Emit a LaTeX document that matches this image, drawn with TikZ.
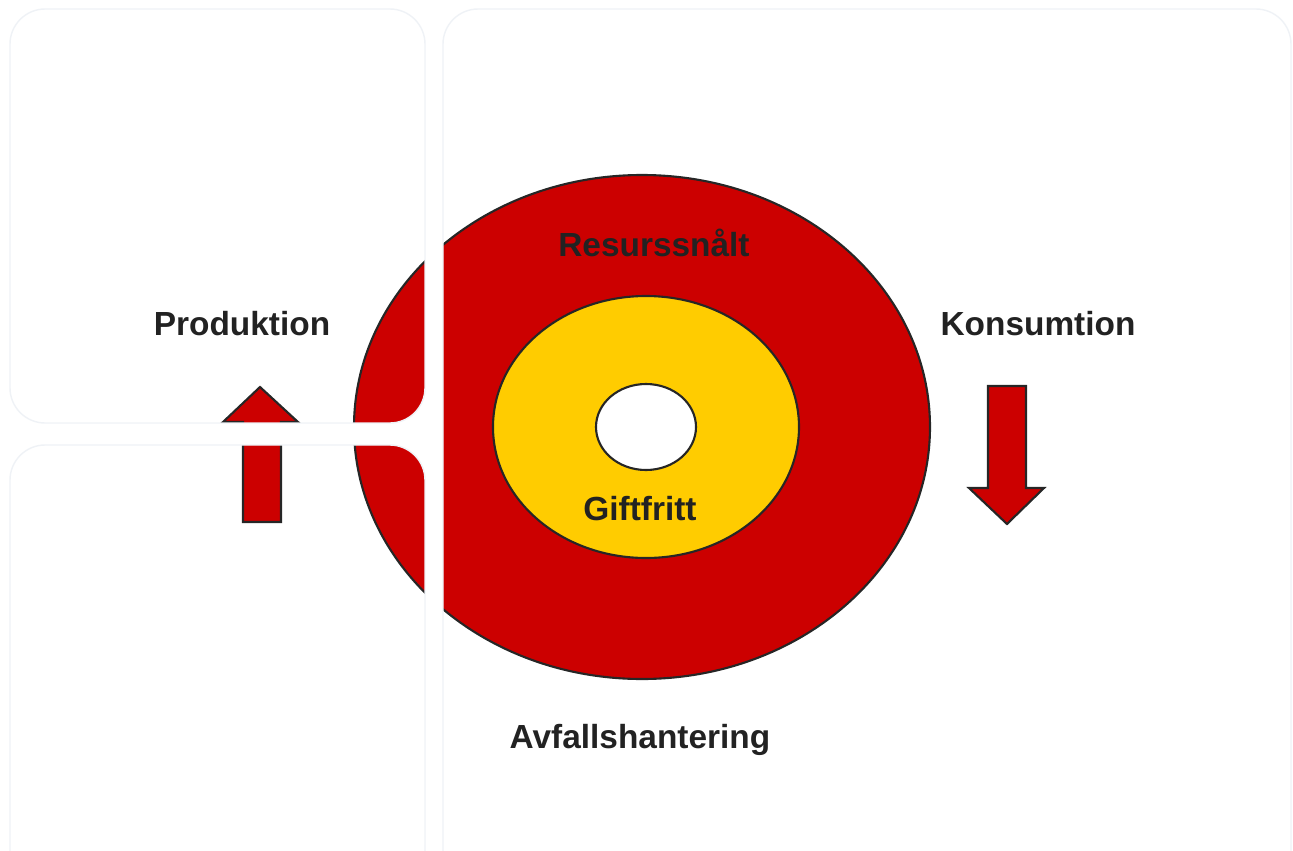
\documentclass[tikz,border=0pt]{standalone}
\usepackage{fontspec}
\setmainfont{Liberation Sans}
\definecolor{ringred}{HTML}{CC0000}
\definecolor{ringyellow}{HTML}{FFCC00}
\definecolor{labelgray}{HTML}{222222}
\definecolor{panelline}{HTML}{EFF2F6}

\begin{document}
\begin{tikzpicture}[x=0.01cm,y=-0.01cm,
    ring/.style={draw=black!85,line width=0.6pt},
    flow/.style={fill=ringred,draw=black!85,line width=0.6pt},
    lbl/.style={font=\bfseries\fontsize{9.5}{11}\selectfont,text=labelgray,inner sep=0pt}]
    \useasboundingbox (0,0) rectangle (1293,851);

    % the rings
    \draw[ring,fill=ringred] (642,427) ellipse [x radius=288, y radius=252];
    \draw[ring,fill=ringyellow] (646,427) ellipse [x radius=153, y radius=131];
    \draw[ring,fill=white] (646,427) ellipse [x radius=50, y radius=43];

    % the flow arrows
    \draw[flow] (260,387) -- (298,422) -- (281,422) -- (281,522) -- (243,522) -- (243,422) -- (223,422) -- cycle;
    \draw[flow] (988,386) -- (1026,386) -- (1026,488) -- (1044,488) -- (1007,524) -- (969,488) -- (988,488) -- cycle;

    % white gaps between the panels
    \fill[white,even odd rule] (-5,-5) rectangle (1300,860)
        [rounded corners=10] (10,9) rectangle (425,423)
        (10,445) rectangle (425,880)
        (443,9) rectangle (1291,880);
    \draw[panelline,rounded corners=10] (10,9) rectangle (425,423);
    \draw[panelline,rounded corners=10] (10,880) |- (425,445) -- (425,880);
    \draw[panelline,rounded corners=10] (443,880) |- (1291,9) -- (1291,880);

    \node[lbl] (resurs) at (654,243) {Resurssnålt};
    \node[lbl] (gift) at (640,509) {Giftfritt};
    \node[lbl] (prod) at (242,324) {Produktion};
    \node[lbl] (kons) at (1038,324) {Konsumtion};
    \node[lbl] (avfall) at (640,740) {Avfallshantering};
\end{tikzpicture}
\end{document}
